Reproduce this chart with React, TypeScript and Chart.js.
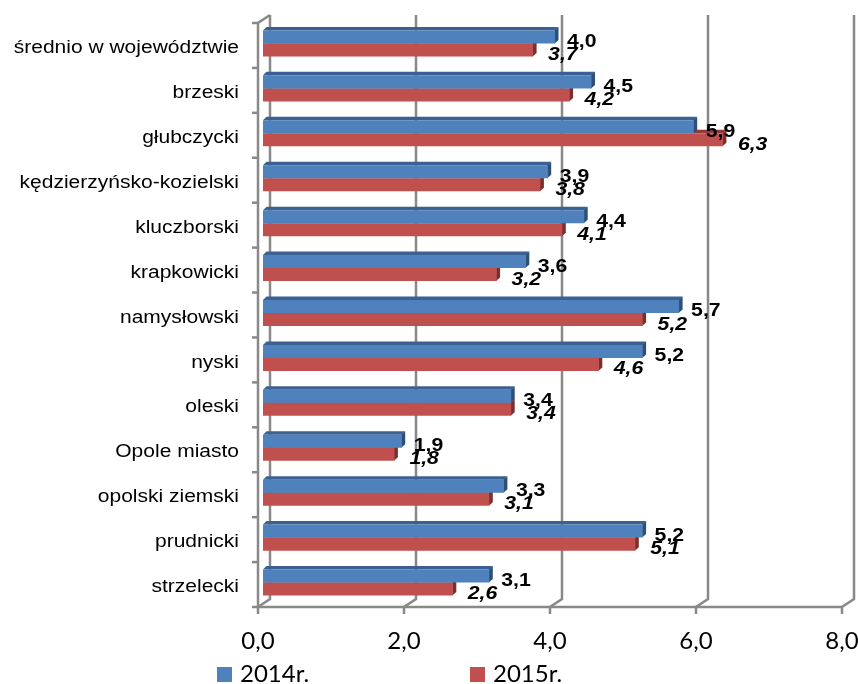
import React, { useEffect, useRef } from "react";
import { Chart, registerables } from "chart.js";

Chart.register(...registerables);

const categories = [
  "średnio w województwie",
  "brzeski",
  "głubczycki",
  "kędzierzyńsko-kozielski",
  "kluczborski",
  "krapkowicki",
  "namysłowski",
  "nyski",
  "oleski",
  "Opole miasto",
  "opolski ziemski",
  "prudnicki",
  "strzelecki",
];
const values2014 = [4.0, 4.5, 5.9, 3.9, 4.4, 3.6, 5.7, 5.2, 3.4, 1.9, 3.3, 5.2, 3.1];
const values2015 = [3.7, 4.2, 6.3, 3.8, 4.1, 3.2, 5.2, 4.6, 3.4, 1.8, 3.1, 5.1, 2.6];
const seriesLabels = ["2014r.", "2015r."];
const xMin = 0;
const xMax = 8;
const xStep = 2;

const COLORS = ["#4F81BD", "#C0504D"];
const TOP_FACE = ["#3A6192", "#8E3B39"];
const SIDE_FACE = ["#2E4F78", "#7A2F2D"];

const fmt = (v: number) => v.toFixed(1).replace(".", ",");

function stretched(ctx: CanvasRenderingContext2D, text: string, x: number, y: number, align: CanvasTextAlign, sx: number) {
  ctx.save();
  ctx.translate(x, y);
  ctx.scale(sx, 1);
  ctx.textAlign = align;
  ctx.textBaseline = "alphabetic";
  ctx.fillText(text, 0, 0);
  ctx.restore();
}

const frame3d = {
  id: "frame3d",
  beforeDatasetsDraw(chart: any) {
    const { ctx, chartArea } = chart;
    const { top, bottom, left } = chartArea;
    const xs = chart.scales.x;
    const n = chart.data.labels.length;
    ctx.save();
    ctx.strokeStyle = "#898989";
    ctx.lineWidth = 2.5;
    ctx.lineCap = "butt";
    ctx.lineJoin = "miter";
    // gridlines (back wall) with floor diagonal and front tick
    xs.ticks.forEach((t: any) => {
      const px = xs.getPixelForValue(t.value);
      ctx.beginPath();
      ctx.moveTo(px + 7, top - 6);
      ctx.lineTo(px + 7, bottom - 6);
      ctx.lineTo(px - 5, bottom + 2);
      ctx.lineTo(px - 5, bottom + 9);
      ctx.stroke();
    });
    // front floor line
    ctx.beginPath();
    ctx.moveTo(xs.getPixelForValue(xMin) - 5, bottom + 2);
    ctx.lineTo(xs.getPixelForValue(xMax) - 5, bottom + 2);
    ctx.stroke();
    // left front axis
    const fx = left - 5;
    ctx.beginPath();
    ctx.moveTo(left + 7, top - 6);
    ctx.lineTo(fx, top + 2);
    ctx.lineTo(fx, bottom + 2);
    ctx.stroke();
    const band = (bottom - top) / n;
    for (let k = 0; k <= n; k++) {
      const yb = top + 2 + k * band;
      ctx.beginPath();
      ctx.moveTo(fx - 6, yb);
      ctx.lineTo(fx, yb);
      ctx.stroke();
    }
    // 3D faces of bars (drawn behind front faces)
    const d = 3.5;
    [1, 0].forEach((di) => {
      const meta = chart.getDatasetMeta(di);
      meta.data.forEach((el: any) => {
        const p = el.getProps(["x", "y", "base", "height"], true);
        const t = p.y - p.height / 2;
        const b = p.y + p.height / 2;
        ctx.fillStyle = TOP_FACE[di];
        ctx.beginPath();
        ctx.moveTo(p.base, t);
        ctx.lineTo(p.base + d, t - d);
        ctx.lineTo(p.x + d, t - d);
        ctx.lineTo(p.x, t);
        ctx.closePath();
        ctx.fill();
        ctx.fillStyle = SIDE_FACE[di];
        ctx.beginPath();
        ctx.moveTo(p.x - 0.5, t);
        ctx.lineTo(p.x + d, t - d);
        ctx.lineTo(p.x + d, b - d);
        ctx.lineTo(p.x - 0.5, b);
        ctx.closePath();
        ctx.fill();
      });
    });
    ctx.restore();
  },
  afterDatasetsDraw(chart: any) {
    const { ctx } = chart;
    const xs = chart.scales.x;
    const ys = chart.scales.y;
    ctx.save();
    ctx.fillStyle = "#000";
    // category labels
    ctx.font = '17.5px "Liberation Sans", Arial, sans-serif';
    chart.data.labels.forEach((lab: string, i: number) => {
      stretched(ctx, lab, 239, ys.getPixelForValue(i) + 9.6, "right", 1.2);
    });
    // x tick labels
    ctx.font = '24px Lato, "Open Sans", sans-serif';
    xs.ticks.forEach((t: any) => {
      const px = xs.getPixelForValue(t.value) - 5;
      stretched(ctx, fmt(t.value), px, 649, "center", 1);
    });
    // data labels
    chart.data.datasets.forEach((ds: any, di: number) => {
      const meta = chart.getDatasetMeta(di);
      ctx.font = (di === 1 ? "italic " : "") + 'bold 18px "Liberation Sans", Arial, sans-serif';
      meta.data.forEach((el: any, i: number) => {
        const p = el.getProps(["x", "y"], true);
        stretched(ctx, fmt(ds.data[i]), p.x + (di === 1 ? 15 : 12), p.y + 10, "left", 1.18);
      });
    });
    // legend
    const legendX = [217, 470];
    ctx.font = '24px Lato, "Open Sans", sans-serif';
    chart.data.datasets.forEach((ds: any, di: number) => {
      ctx.fillStyle = ds.backgroundColor;
      ctx.fillRect(legendX[di], 667, 15, 15);
      ctx.fillStyle = "#000";
      stretched(ctx, ds.label, legendX[di] + 23, 682, "left", 1);
    });
    ctx.restore();
  },
};

export default function App() {
  const ref = useRef<HTMLCanvasElement | null>(null);
  useEffect(() => {
    if (!ref.current) return;
    const chart = new Chart(ref.current, {
      type: "bar",
      data: {
        labels: categories,
        datasets: [
          {
            label: seriesLabels[0],
            data: values2014,
            backgroundColor: COLORS[0],
            borderWidth: 0,
            categoryPercentage: 0.58,
            barPercentage: 1,
          },
          {
            label: seriesLabels[1],
            data: values2015,
            backgroundColor: COLORS[1],
            borderWidth: 0,
            categoryPercentage: 0.58,
            barPercentage: 1,
          },
        ],
      },
      options: {
        indexAxis: "y",
        responsive: false,
        animation: false,
        devicePixelRatio: 1,
        layout: { padding: { top: 21, right: 11, left: 0, bottom: 0 } },
        plugins: { legend: { display: false }, tooltip: { enabled: false } },
        scales: {
          x: {
            type: "linear",
            min: xMin,
            max: xMax,
            ticks: { display: false, stepSize: xStep },
            grid: { display: false },
            border: { display: false },
            afterFit: (s: any) => {
              s.height = 79;
            },
          },
          y: {
            ticks: { display: false },
            grid: { display: false },
            border: { display: false },
            afterFit: (s: any) => {
              s.width = 263;
            },
          },
        },
      },
      plugins: [frame3d],
    } as any);
    return () => chart.destroy();
  }, []);
  return (
    <div style={{ position: "absolute", left: 0, top: 0, width: 858, height: 684, background: "#fff" }}>
      <canvas ref={ref} width={858} height={684} style={{ display: "block" }} />
    </div>
  );
}
